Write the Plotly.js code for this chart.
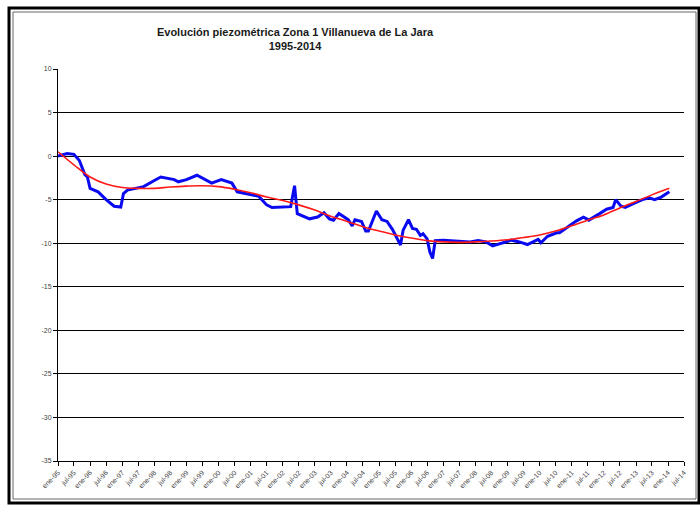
<!DOCTYPE html>
<html><head><meta charset="utf-8">
<script src="https://cdn.plot.ly/plotly-3.0.1.min.js"></script>
<style>html,body{margin:0;padding:0;background:#fff}#chart{width:700px;height:505px}</style>
</head><body><div id="chart"></div>
<script>
const obsDates = ["1995-01-01","1995-04-15","1995-07-01","1995-09-01","1995-11-01","1995-12-01","1996-01-01","1996-04-01","1996-07-01","1996-10-01","1996-12-15","1997-01-15","1997-03-01","1997-09-01","1998-01-01","1998-03-15","1998-08-15","1998-10-01","1999-01-01","1999-05-01","1999-10-15","2000-02-01","2000-06-01","2000-08-01","2000-11-01","2001-04-01","2001-07-01","2001-09-01","2002-04-01","2002-05-15","2002-06-15","2002-11-01","2003-02-01","2003-04-15","2003-06-15","2003-08-01","2003-10-01","2004-01-15","2004-03-01","2004-04-01","2004-06-15","2004-08-01","2004-09-01","2004-12-01","2005-02-01","2005-04-01","2005-06-01","2005-09-01","2005-10-01","2005-12-01","2006-01-15","2006-03-01","2006-04-15","2006-05-15","2006-07-01","2006-08-01","2006-09-01","2006-10-01","2007-01-01","2007-07-01","2007-11-01","2008-02-01","2008-05-01","2008-07-15","2008-11-15","2009-02-15","2009-05-15","2009-08-15","2009-12-15","2010-01-15","2010-04-01","2010-07-15","2010-08-15","2010-12-01","2011-03-01","2011-05-15","2011-07-15","2011-11-15","2012-02-01","2012-04-15","2012-05-15","2012-07-15","2012-09-01","2012-12-01","2013-03-15","2013-06-01","2013-08-01","2013-10-15","2014-01-15"];
const obsValues = [0.0,0.3,0.2,-0.5,-2.1,-2.4,-3.7,-4.1,-5.0,-5.75,-5.85,-4.3,-3.9,-3.5,-2.8,-2.4,-2.7,-2.95,-2.7,-2.2,-3.1,-2.7,-3.1,-4.1,-4.3,-4.6,-5.6,-5.9,-5.8,-3.4,-6.6,-7.2,-7.0,-6.5,-7.2,-7.35,-6.6,-7.3,-8.0,-7.3,-7.5,-8.6,-8.6,-6.3,-7.3,-7.5,-8.4,-10.2,-8.5,-7.3,-8.3,-8.4,-9.1,-8.9,-9.5,-11.0,-11.75,-9.7,-9.65,-9.75,-9.85,-9.7,-9.85,-10.3,-9.95,-9.65,-9.85,-10.15,-9.55,-9.95,-9.2,-8.8,-8.8,-8.05,-7.4,-7.0,-7.35,-6.6,-6.1,-5.9,-5.0,-5.75,-5.9,-5.45,-5.0,-4.8,-5.0,-4.7,-4.1];

const trendDates = ["1995-01-01","1995-07-01","1996-01-01","1996-07-01","1997-01-01","1997-07-01","1998-01-01","1998-07-01","1999-01-01","1999-07-01","2000-01-01","2000-07-01","2001-01-01","2001-07-01","2002-01-01","2002-07-01","2003-01-01","2003-07-01","2004-01-01","2004-07-01","2005-01-01","2005-07-01","2006-01-01","2006-07-01","2007-01-01","2007-07-01","2008-01-01","2008-07-01","2009-01-01","2009-07-01","2010-01-01","2010-07-01","2011-01-01","2011-07-01","2012-01-01","2012-07-01","2013-01-01","2013-07-01","2014-01-15"];
const trendValues = [0.5,-1.0,-2.4,-3.2,-3.6,-3.7,-3.7,-3.55,-3.45,-3.4,-3.5,-3.8,-4.2,-4.7,-5.1,-5.6,-6.2,-6.9,-7.5,-8.1,-8.6,-9.05,-9.4,-9.7,-9.85,-9.9,-9.85,-9.75,-9.6,-9.35,-9.05,-8.6,-8.0,-7.35,-6.75,-5.95,-5.2,-4.45,-3.7];

const tickLabels = ["ene-95","jul-95","ene-96","jul-96","ene-97","jul-97","ene-98","jul-98","ene-99","jul-99","ene-00","jul-00","ene-01","jul-01","ene-02","jul-02","ene-03","jul-03","ene-04","jul-04","ene-05","jul-05","ene-06","jul-06","ene-07","jul-07","ene-08","jul-08","ene-09","jul-09","ene-10","jul-10","ene-11","jul-11","ene-12","jul-12","ene-13","jul-13","ene-14","jul-14"];
const yTicks = [10,5,0,-5,-10,-15,-20,-25,-30,-35];

// tick positions derived from labels
const monthMap = {ene:"01", jul:"07"};
const tickVals = tickLabels.map(t => {
  const [m, yy] = t.split("-");
  const y = (+yy > 50 ? 1900 : 2000) + (+yy);
  return y + "-" + monthMap[m] + "-01";
});

const L = 58, R = 684, T = 69, B = 461, W = 700, H = 505;
const px = x => (x - L) / (R - L);
const py = y => (B - y) / (B - T);

const data = [
  {x: obsDates, y: obsValues, type: "scatter", mode: "lines",
   line: {color: "#0a0af0", width: 3}, hoverinfo: "x+y"},
  {x: trendDates, y: trendValues, type: "scatter", mode: "lines",
   line: {color: "#ff1a1a", width: 1.6, shape: "spline", smoothing: 1}, hoverinfo: "x+y"}
];

const layout = {
  width: W, height: H,
  margin: {l: L, r: W - R, t: T, b: H - B},
  paper_bgcolor: "#ffffff", plot_bgcolor: "#ffffff",
  showlegend: false,
  font: {family: "Liberation Sans, Arial, sans-serif", color: "#333"},
  title: {
    text: "<b>Evolución piezométrica Zona 1 Villanueva de La Jara<br>1995-2014</b>",
    font: {family: "Liberation Sans, Arial, sans-serif", size: 11, color: "#1a1a1a"},
    x: 295 / W, xanchor: "center", xref: "container",
    y: 1 - 36 / H, yanchor: "top", yref: "container"
  },
  xaxis: {
    type: "date",
    range: ["1995-01-01", "2014-07-01"],
    tickvals: tickVals, ticktext: tickLabels,
    tickangle: -45, tickfont: {size: 7, color: "#444"},
    ticks: "outside", ticklen: 4, tickcolor: "#000",
    showgrid: false, zeroline: false,
    showline: true, linecolor: "#000", linewidth: 1
  },
  yaxis: {
    range: [-35, 10],
    tickvals: yTicks, ticktext: yTicks.map(String),
    tickfont: {size: 7, color: "#444"},
    ticks: "outside", ticklen: 4, tickcolor: "#000",
    showgrid: true, gridcolor: "#000", gridwidth: 1,
    zeroline: false, showline: true, linecolor: "#000", linewidth: 1
  },
  shapes: [
    {type: "rect", xref: "paper", yref: "paper", x0: px(9), x1: px(699), y0: py(503), y1: py(8),
     line: {color: "#000", width: 3}, layer: "below"},
    {type: "rect", xref: "paper", yref: "paper", x0: px(13), x1: px(696), y0: py(499), y1: py(12),
     line: {color: "#666", width: 1}, layer: "below"}
  ]
};

Plotly.newPlot("chart", data, layout, {displayModeBar: false, staticPlot: true});
</script>
</body></html>
